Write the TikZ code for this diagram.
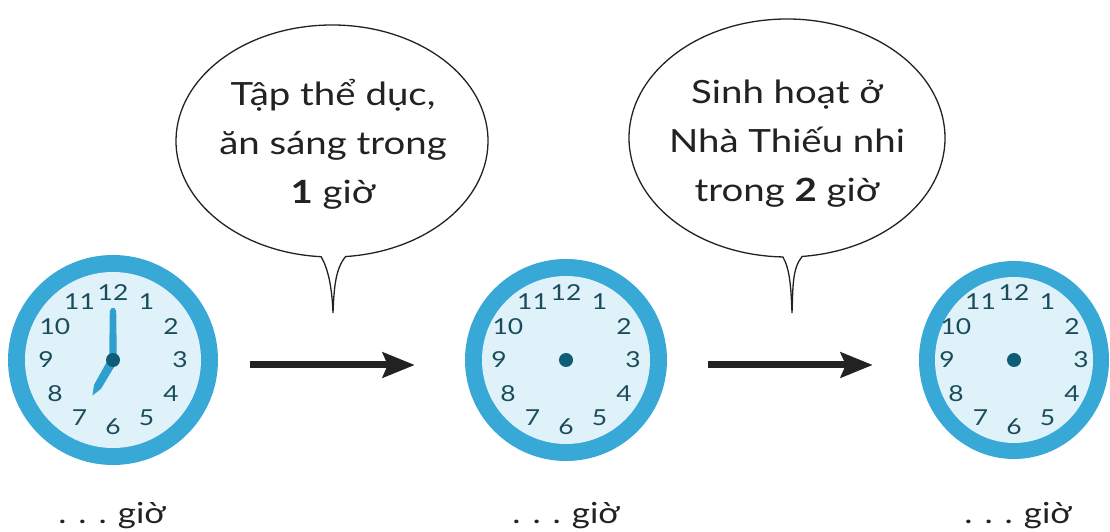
\documentclass[tikz,border=0pt]{standalone}
\usepackage{fontspec}
\setmainfont{Lato}
\newfontfamily\widefont[FakeStretch=1.2]{Lato}
\usetikzlibrary{arrows.meta,shapes.geometric}
\definecolor{ringblue}{HTML}{38A8D6}
\definecolor{faceblue}{HTML}{DFF1F9}
\definecolor{numcol}{HTML}{1A4D5C}
\definecolor{handblue}{HTML}{2E9FCF}
\definecolor{hubcol}{HTML}{0E5C78}
\definecolor{inkcol}{HTML}{222222}
\begin{document}
\begin{tikzpicture}[x=1pt,y=1pt,
  ring/.style={ellipse, fill=ringblue, inner sep=0pt},
  face/.style={ellipse, fill=faceblue, inner sep=0pt},
  hub/.style={circle, fill=hubcol, minimum size=14pt, inner sep=0pt},
  clocknum/.style={text=numcol, font=\widefont\fontsize{22pt}{22pt}\selectfont, inner sep=0pt},
  hand/.style={fill=handblue},
  bubble/.style={draw=inkcol, line width=1.3pt, fill=white},
  bubbletext/.style={align=center, font=\widefont\fontsize{32pt}{49pt}\selectfont, text=inkcol},
  flowarrow/.style={draw=inkcol, line width=7pt, -{Stealth[length=32pt,width=25pt,inset=5pt]}},
  answer/.style={font=\widefont\fontsize{29pt}{29pt}\selectfont, anchor=base, text=inkcol}]
\useasboundingbox (0,0) rectangle (1110,532);

% ---------- clocks ----------
\node[ring, minimum width=210pt, minimum height=210pt] (c1) at (113,172) {};
\node[face, minimum width=176pt, minimum height=176pt] (f1) at (c1.center) {};
\node[ring, minimum width=202pt, minimum height=202pt] (c2) at (566,172) {};
\node[face, minimum width=168pt, minimum height=168pt] (f2) at (c2.center) {};
\node[ring, minimum width=190pt, minimum height=198pt] (c3) at (1014,172) {};
\node[face, minimum width=158pt, minimum height=166pt] (f3) at (c3.center) {};

\foreach \c in {1,2,3}{
  \foreach \n in {1,...,12}{
    \node[clocknum] (c\c n\n) at ([shift={({90-30*\n}:67)}]c\c.center) {\n};
  }
}

% hands of the first clock (7 o'clock)
\begin{scope}[shift={(c1.center)}, rotate=90]
  \path[hand, rounded corners=1.5pt] (0,-3.8) -- (50,-3.2) -- (53,0) -- (50,3.2) -- (0,3.8) -- cycle;
\end{scope}
\begin{scope}[shift={(c1.center)}, rotate=-120]
  \path[hand] (0,-4.5) -- (31,-4) -- (41,0) -- (31,4) -- (0,4.5) -- cycle;
\end{scope}
\node[hub] (h1) at (c1.center) {};
\node[hub] (h2) at (c2.center) {};
\node[hub] (h3) at (c3.center) {};

% ---------- arrows ----------
\draw[flowarrow] ([xshift=32pt, yshift=-5pt]c1.east) -- ([xshift=-50pt, yshift=-5pt]c2.west);
\draw[flowarrow] ([xshift=41pt, yshift=-5pt]c2.east) -- ([xshift=-46pt, yshift=-5pt]c3.west);

% ---------- speech bubbles ----------
\coordinate (b1) at (332,391);
\coordinate (b1tip) at (333,219);
\draw[bubble] ([shift={(275:156 and 116)}]b1)
  arc[start angle=275, end angle=626, x radius=156pt, y radius=116pt]
  .. controls +(7,-12) and +(-1,26) .. (b1tip)
  .. controls +(1,26) and +(-10,-12) .. cycle;
\node[bubbletext] (t1) at (333,388) {Tập thể dục,\\ăn sáng trong\\\textbf{1} giờ};

\coordinate (b2) at (787,394);
\coordinate (b2tip) at (792,219);
\draw[bubble] ([shift={(275.5:158 and 119)}]b2)
  arc[start angle=275.5, end angle=628.5, x radius=158pt, y radius=119pt]
  .. controls +(7,-12) and +(-1,26) .. (b2tip)
  .. controls +(1,26) and +(-10,-12) .. cycle;
\node[bubbletext] (t2) at (787,388) {Sinh hoạt ở\\Nhà Thiếu nhi\\trong \textbf{2} giờ};

% ---------- answer labels ----------
\node[answer] (l1) at (112,8) {.\hspace{12pt}.\hspace{12pt}.\hspace{11pt}giờ};
\node[answer] (l2) at (566,8) {.\hspace{12pt}.\hspace{12pt}.\hspace{11pt}giờ};
\node[answer] (l3) at (1018,8) {.\hspace{12pt}.\hspace{12pt}.\hspace{11pt}giờ};
\end{tikzpicture}
\end{document}
